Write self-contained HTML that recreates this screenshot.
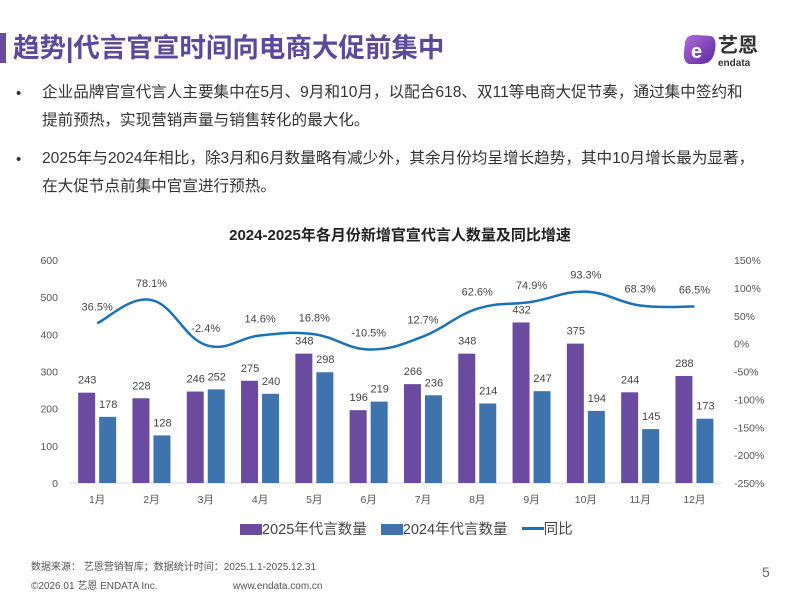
<!DOCTYPE html>
<html><head><meta charset="utf-8"><style>
body{margin:0;width:800px;height:600px;background:#fff;position:relative;overflow:hidden;font-family:"Liberation Sans","Noto Sans CJK SC",sans-serif;color:#333}
.abs{position:absolute;white-space:nowrap}
</style></head><body>
<div class="abs" style="left:0;top:33px;width:6px;height:30px;background:#6a4ba0"></div>
<div class="abs" style="left:13px;top:30px;font-size:26.5px;line-height:36px;font-weight:bold;color:#5b4a9b">趋势|代言官宣时间向电商大促前集中</div>
<div class="abs" style="left:681px;top:30px;width:92px;height:40px">
<svg width="92" height="40"><defs><linearGradient id="lg" x1="0" y1="0" x2="1" y2="1"><stop offset="0" stop-color="#b06be0"/><stop offset="1" stop-color="#5b2a9a"/></linearGradient></defs>
<path d="M4 12 Q6 4 16 5 L30 6 Q36 8 34 20 Q32 34 20 34 L8 34 Q2 32 3 22 Z" fill="url(#lg)"/>
<text x="10" y="28" font-size="20" font-weight="bold" fill="#fff" font-family="Liberation Sans">e</text>
<text x="37" y="22" font-size="20" font-weight="bold" fill="#333" font-family="Noto Sans CJK SC">艺恩</text>
<text x="37" y="36" font-size="10" font-weight="bold" fill="#333" font-family="Liberation Sans">endata</text></svg></div>
<div class="abs" style="left:16px;top:80px;font-size:15px;line-height:28px">•</div>
<div class="abs" style="left:42px;top:79px;font-size:15.6px;line-height:28px">企业品牌官宣代言人主要集中在5月、9月和10月，以配合618、双11等电商大促节奏，通过集中签约和<br>提前预热，实现营销声量与销售转化的最大化。</div>
<div class="abs" style="left:16px;top:146px;font-size:15px;line-height:28px">•</div>
<div class="abs" style="left:42px;top:145px;font-size:15.6px;line-height:28px">2025年与2024年相比，除3月和6月数量略有减少外，其余月份均呈增长趋势，其中10月增长最为显著，<br>在大促节点前集中官宣进行预热。</div>
<div class="abs" style="left:0;width:800px;text-align:center;top:224px;font-size:15px;font-weight:bold;color:#222">2024-2025年各月份新增官宣代言人数量及同比增速</div>
<svg id="chart" class="abs" style="left:0;top:0" width="800" height="600"></svg>
<div class="abs" style="left:240px;top:518px;font-size:14.5px;color:#444">
<span><span style="display:inline-block;width:22px;height:11px;background:#6a4ba0;vertical-align:-1px"></span>2025年代言数量</span>
<span style="margin-left:10px"><span style="display:inline-block;width:22px;height:11px;background:#3f73ad;vertical-align:-1px"></span>2024年代言数量</span>
<span style="margin-left:10px"><span style="display:inline-block;width:22px;height:3px;background:#1a72b8;vertical-align:4px"></span>同比</span></div>
<div class="abs" style="left:31px;top:561px;font-size:10px;line-height:14px;color:#555">数据来源：  艺恩营销智库；数据统计时间：2025.1.1-2025.12.31</div>
<div class="abs" style="left:31px;top:580px;font-size:10px;line-height:14px;color:#555">©2026.01 艺恩 ENDATA Inc.</div>
<div class="abs" style="left:233px;top:580px;font-size:10px;line-height:14px;color:#555">www.endata.com.cn</div>
<div class="abs" style="left:762px;top:564px;font-size:14px;color:#666">5</div>
<script>
const months=["1月","2月","3月","4月","5月","6月","7月","8月","9月","10月","11月","12月"];
const s2025=[243,228,246,275,348,196,266,348,432,375,244,288];
const s2024=[178,128,252,240,298,219,236,214,247,194,145,173];
const yoy=[36.5,78.1,-2.4,14.6,16.8,-10.5,12.7,62.6,74.9,93.3,68.3,66.5];
const leftTicks=[0,100,200,300,400,500,600];
const rightTicks=[-250,-200,-150,-100,-50,0,50,100,150];
const svg=document.getElementById('chart');const NS='http://www.w3.org/2000/svg';
const x0=70,step=54.3,yb=483,yt=260;
const yL=v=>yb-(v/600)*(yb-yt);
const yR=v=>yb-((v+250)/400)*(yb-yt);
const xc=i=>x0+step*(i+0.5);
function mk(t,a,txt){const e=document.createElementNS(NS,t);for(const k in a)e.setAttribute(k,a[k]);if(txt!=null)e.textContent=txt;svg.appendChild(e);return e;}
let e;
e=mk('line',{x1:x0,x2:x0+step*12,y1:yb,y2:yb,stroke:'#d9d9d9'});


leftTicks.forEach(v=>{e=mk('text',{x:58,y:yL(v)+4,'text-anchor':'end','font-size':10.5,fill:'#555'},v);

});
rightTicks.forEach(v=>{e=mk('text',{x:734,y:yR(v)+4,'font-size':10.5,fill:'#555'},v+'%');

});
months.forEach((m,i)=>{
 const c=xc(i);
 e=mk('text',{x:c,y:503,'text-anchor':'middle','font-size':10.5,fill:'#555'},m);
 
 
 e=mk('rect',{x:c-19,y:yL(s2025[i]),width:17,height:yb-yL(s2025[i]),fill:'#6a4ba0'});
 
 
 e=mk('rect',{x:c+2,y:yL(s2024[i]),width:17,height:yb-yL(s2024[i]),fill:'#3f73ad'});
 
 
 e=mk('text',{x:c-10,y:yL(s2025[i])-9,'text-anchor':'middle','font-size':11,fill:'#444'},s2025[i]);
 
 
 e=mk('text',{x:c+11,y:yL(s2024[i])-9,'text-anchor':'middle','font-size':11,fill:'#444'},s2024[i]);
 
 
 e=mk('text',{x:c,y:yR(yoy[i])-13,'text-anchor':'middle','font-size':11,fill:'#444'},yoy[i]+'%');
 
 
});
const pts=yoy.map((v,i)=>[xc(i),yR(v)]);
let d='M'+pts[0][0]+','+pts[0][1];
for(let i=0;i<pts.length-1;i++){const p0=pts[Math.max(0,i-1)],p1=pts[i],p2=pts[i+1],p3=pts[Math.min(pts.length-1,i+2)];
 const t=0.2;d+=' C'+(p1[0]+(p2[0]-p0[0])*t)+','+(p1[1]+(p2[1]-p0[1])*t)+' '+(p2[0]-(p3[0]-p1[0])*t)+','+(p2[1]-(p3[1]-p1[1])*t)+' '+p2[0]+','+p2[1];}
e=mk('path',{d:d,fill:'none',stroke:'#1a72b8','stroke-width':2.5});


</script>
</body></html>
